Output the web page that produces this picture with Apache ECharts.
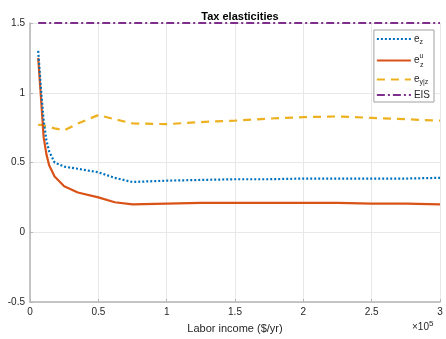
<!DOCTYPE html>
<html>
<head>
<meta charset="utf-8">
<script src="https://cdn.jsdelivr.net/npm/echarts@6/dist/echarts.min.js"></script>
<style>html,body{margin:0;padding:0;background:#fff}#c{width:446px;height:339px}</style>
</head>
<body>
<div id="c"></div>
<script>
const income = [6000, 8000, 10000, 12000, 14000, 18000, 25000, 35000, 50000, 62000, 75000, 100000, 125000, 150000, 175000, 200000, 225000, 250000, 275000, 300000];
const ez = [1.30, 1.03, 0.80, 0.66, 0.58, 0.50, 0.47, 0.455, 0.43, 0.39, 0.36, 0.37, 0.375, 0.38, 0.38, 0.385, 0.385, 0.385, 0.385, 0.39];
const ezu = [1.25, 0.97, 0.68, 0.56, 0.48, 0.40, 0.33, 0.285, 0.25, 0.215, 0.20, 0.205, 0.21, 0.21, 0.21, 0.21, 0.21, 0.205, 0.205, 0.20];
const eyz = [0.77, 0.77, 0.765, 0.76, 0.755, 0.745, 0.73, 0.78, 0.84, 0.81, 0.78, 0.775, 0.79, 0.80, 0.815, 0.825, 0.83, 0.82, 0.81, 0.80];
const eis = [1.5, 1.5, 1.5, 1.5, 1.5, 1.5, 1.5, 1.5, 1.5, 1.5, 1.5, 1.5, 1.5, 1.5, 1.5, 1.5, 1.5, 1.5, 1.5, 1.5];
const yTicks = [-0.5, 0, 0.5, 1, 1.5];
const xTicks = [0, 0.5, 1, 1.5, 2, 2.5, 3];

const pair = (ys) => income.map((x, i) => [x, ys[i]]);
const chart = echarts.init(document.getElementById('c'));
const labelMap = {
  'ez': '{b|e}{sub|z}',
  'ezu': '{b2|e}{sup|u}\n{ind|}{sub2|z}',
  'eyz': '{b|e}{sub|y|z}',
  'EIS': '{b|EIS}'
};
const F = 'Liberation Sans';
chart.setOption({
  animation: false,
  title: {
    text: 'Tax elasticities', left: 235, textAlign: 'center', top: 6,
    textStyle: { fontSize: 11, fontWeight: 'bold', color: '#000', fontFamily: F }
  },
  grid: { left: 30, right: 6, top: 23, bottom: 37, containLabel: false },
  legend: {
    orient: 'vertical', right: 12, top: 30,
    backgroundColor: '#fff', borderColor: '#a0a0a0', borderWidth: 1,
    padding: [4, 4, 2, 2], itemGap: 4, itemWidth: 34, itemHeight: 10,
    data: ['ez', 'ezu', 'eyz', 'EIS'],
    itemStyle: { opacity: 0 },
    formatter: (n) => labelMap[n],
    textStyle: {
      fontFamily: F, color: '#262626', fontSize: 10, padding: [0, 0, 0, -2],
      rich: {
        b: { fontSize: 10, color: '#262626', fontFamily: F },
        b2: { fontSize: 10, color: '#262626', fontFamily: F, lineHeight: 10, padding: [6, 0, 0, 0] },
        sub: { fontSize: 7, color: '#262626', verticalAlign: 'bottom', padding: [6, 0, 0, 0], fontFamily: F },
        sup: { fontSize: 7, color: '#262626', lineHeight: 8, padding: [0, 0, 2, 0], fontFamily: F },
        ind: { width: 6, height: 6, lineHeight: 6 },
        sub2: { fontSize: 7, color: '#262626', lineHeight: 6, fontFamily: F }
      }
    }
  },
  xAxis: {
    type: 'value', min: 0, max: 300000, interval: 50000,
    name: 'Labor income ($/yr)', nameLocation: 'middle', nameGap: 21,
    nameTextStyle: { fontSize: 11, color: '#262626', fontFamily: F },
    axisLine: { show: true, onZero: false, lineStyle: { color: '#b5b5b5', width: 1.5 } },
    axisTick: { show: true, inside: true, length: 3, lineStyle: { color: '#b5b5b5' } },
    axisLabel: {
      fontSize: 10, color: '#262626', margin: 5, fontFamily: F,
      formatter: (v) => String(xTicks[Math.round(v / 50000)])
    },
    splitLine: { show: true, lineStyle: { color: '#e8e8e8', width: 1 } }
  },
  yAxis: {
    type: 'value', min: -0.5, max: 1.5, interval: 0.5,
    axisLine: { show: true, lineStyle: { color: '#b5b5b5', width: 1.5 } },
    axisTick: { show: true, inside: true, length: 3, lineStyle: { color: '#b5b5b5' } },
    axisLabel: {
      fontSize: 10, color: '#262626', margin: 5, fontFamily: F,
      formatter: (v) => String(yTicks.find(t => Math.abs(t - v) < 1e-9))
    },
    splitLine: { show: true, lineStyle: { color: '#e8e8e8', width: 1 } }
  },
  graphic: [{
    type: 'text', left: 412, top: 320,
    style: {
      text: '{m|×10}{s|5}',
      rich: {
        m: { fontSize: 10, fill: '#262626', fontFamily: F },
        s: { fontSize: 8, fill: '#262626', padding: [0, 0, 7, 0], fontFamily: F }
      }
    }
  }],
  series: [
    { name: 'ez', type: 'line', data: pair(ez), symbol: 'none',
      lineStyle: { color: '#0072BD', width: 2.2, type: [2, 2] }, itemStyle: { color: '#0072BD' }, z: 4 },
    { name: 'ezu', type: 'line', data: pair(ezu), symbol: 'none',
      lineStyle: { color: '#D95319', width: 2.2, type: 'solid' }, itemStyle: { color: '#D95319' }, z: 3 },
    { name: 'eyz', type: 'line', data: pair(eyz), symbol: 'none',
      lineStyle: { color: '#EDB120', width: 2.2, type: [8, 6] }, itemStyle: { color: '#EDB120' }, z: 2 },
    { name: 'EIS', type: 'line', data: pair(eis), symbol: 'none',
      lineStyle: { color: '#7E2F8E', width: 2.2, type: [8, 3, 2, 3] }, itemStyle: { color: '#7E2F8E' }, z: 5 }
  ]
});
</script>
</body>
</html>
